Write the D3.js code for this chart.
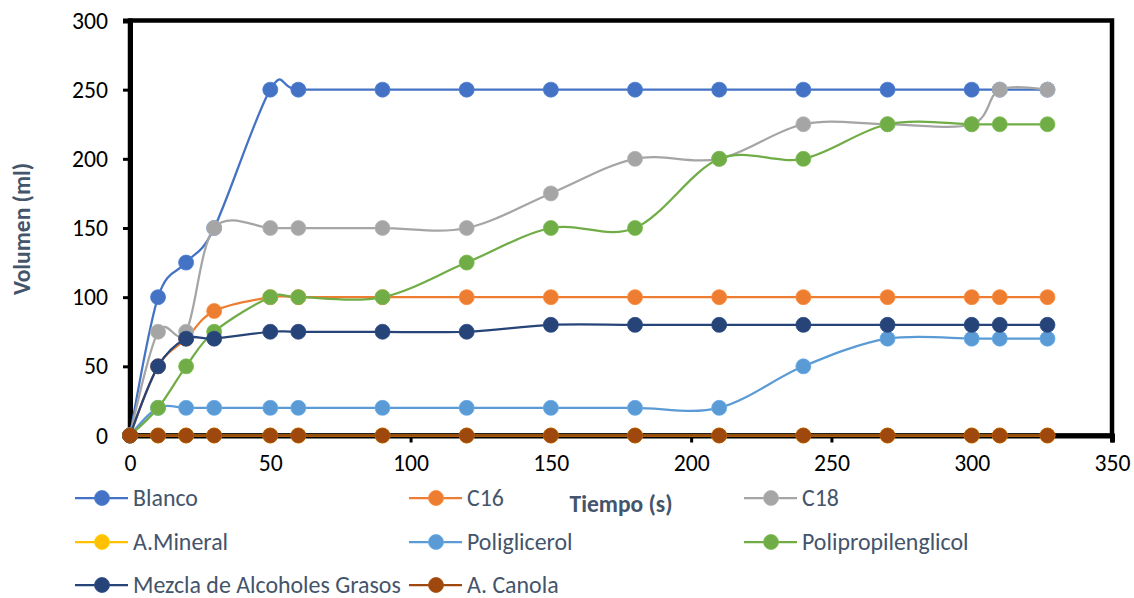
<!DOCTYPE html>
<html>
<head>
<meta charset="utf-8">
<script src="https://cdn.jsdelivr.net/npm/d3@7"></script>
<style>
  html, body { margin: 0; padding: 0; background: #fff; }
  svg { display: block; }
  text { font-family: Carlito, Calibri, Lato, "Open Sans", sans-serif; }
</style>
</head>
<body>
<svg id="chart" width="1134" height="598"></svg>
<script>
// ---- data ----
const time = [0, 10, 20, 30, 50, 60, 90, 120, 150, 180, 210, 240, 270, 300, 310, 327];
const blanco = [0, 100, 125, 150, 250, 250, 250, 250, 250, 250, 250, 250, 250, 250, 250, 250];
const c16 = [0, 50, 70, 90, 100, 100, 100, 100, 100, 100, 100, 100, 100, 100, 100, 100];
const c18 = [0, 75, 75, 150, 150, 150, 150, 150, 175, 200, 200, 225, 225, 225, 250, 250];
const aMineral = [0, 0, 0, 0, 0, 0, 0, 0, 0, 0, 0, 0, 0, 0, 0, 0];
const poliglicerol = [0, 20, 20, 20, 20, 20, 20, 20, 20, 20, 20, 50, 70, 70, 70, 70];
const polipropilenglicol = [0, 20, 50, 75, 100, 100, 100, 125, 150, 150, 200, 200, 225, 225, 225, 225];
const mezcla = [0, 50, 70, 70, 75, 75, 75, 75, 80, 80, 80, 80, 80, 80, 80, 80];
const aCanola = [0, 0, 0, 0, 0, 0, 0, 0, 0, 0, 0, 0, 0, 0, 0, 0];

const seriesNames = ["Blanco", "C16", "C18", "A.Mineral", "Poliglicerol", "Polipropilenglicol", "Mezcla de Alcoholes Grasos", "A. Canola"];
const seriesValues = [blanco, c16, c18, aMineral, poliglicerol, polipropilenglicol, mezcla, aCanola];
const seriesColors = ["#4472C4", "#ED7D31", "#A5A5A5", "#FFC000", "#5B9BD5", "#70AD47", "#264478", "#9E480E"];

const xTicks = [0, 50, 100, 150, 200, 250, 300, 350];
const yTicks = [0, 50, 100, 150, 200, 250, 300];
const xTitle = "Tiempo (s)";
const yTitle = "Volumen (ml)";

// ---- layout ----
const svg = d3.select("#chart");
const pLeft = 130, pRight = 1112, pTop = 20.5, pBottom = 435.5;
const x = d3.scaleLinear().domain([0, 350]).range([pLeft, pRight]);
const y = d3.scaleLinear().domain([0, 300]).range([pBottom, pTop]);

// font fitting helper (Calibri-like metrics)
function fitSize(str, targetW, weight) {
  const t = svg.append("text").attr("font-size", 100).attr("font-weight", weight || "normal").text(str);
  const w = t.node().getComputedTextLength();
  t.remove();
  return 100 * targetW / w;
}
const legendFs = Math.min(24, fitSize("Mezcla de Alcoholes Grasos", 268));
const tickFs = Math.min(24, fitSize("300", 36));
const titleFs = Math.min(24, fitSize("Tiempo (s)", 103, "bold"));

const slate = "#44546A";

// plot frame (top & right)
svg.append("rect")
  .attr("x", pLeft).attr("y", pTop)
  .attr("width", pRight - pLeft).attr("height", pBottom - pTop)
  .attr("fill", "none").attr("stroke", "#000").attr("stroke-width", 4.5);

// axes
const yAxis = d3.axisLeft(y).tickValues(yTicks).tickSize(7).tickPadding(15).tickFormat(d3.format("d"));
const gy = svg.append("g").attr("transform", `translate(${pLeft},0)`).call(yAxis);
gy.select(".domain").attr("stroke", "#000").attr("stroke-width", 5);
gy.selectAll(".tick line").attr("stroke", "#000").attr("stroke-width", 3);
gy.selectAll(".tick text").attr("font-size", tickFs).attr("fill", "#000")
  .attr("font-family", "Carlito, Calibri, Lato, 'Open Sans', sans-serif");

const xAxis = d3.axisBottom(x).tickValues(xTicks).tickSize(7).tickPadding(12).tickFormat(d3.format("d"));
const gx = svg.append("g").attr("transform", `translate(0,${pBottom})`).call(xAxis);
gx.select(".domain").attr("stroke", "#000").attr("stroke-width", 5);
gx.selectAll(".tick line").attr("stroke", "#000").attr("stroke-width", 3);
gx.selectAll(".tick text").attr("font-size", tickFs).attr("fill", "#000")
  .attr("font-family", "Carlito, Calibri, Lato, 'Open Sans', sans-serif");

// series
const line = d3.line()
  .x((d, i) => x(time[i]))
  .y(d => y(d))
  .curve(d3.curveCardinal.tension(0));

seriesValues.forEach((vals, si) => {
  const g = svg.append("g").attr("class", "series");
  g.append("path")
    .datum(vals)
    .attr("d", line)
    .attr("fill", "none")
    .attr("stroke", seriesColors[si])
    .attr("stroke-width", 2.25);
  g.selectAll("circle")
    .data(vals)
    .join("circle")
    .attr("cx", (d, i) => x(time[i]))
    .attr("cy", d => y(d))
    .attr("r", 7.5)
    .attr("fill", seriesColors[si])
    .attr("stroke", d3.color(seriesColors[si]).brighter(0.25))
    .attr("stroke-width", 0.8);
});

// axis titles
svg.append("text")
  .attr("x", (pLeft + pRight) / 2).attr("y", 512)
  .attr("text-anchor", "middle")
  .attr("font-size", titleFs).attr("font-weight", "bold").attr("fill", slate)
  .text(xTitle);

svg.append("text")
  .attr("transform", `translate(22,229) rotate(-90)`)
  .attr("text-anchor", "middle").attr("dy", "0.35em")
  .attr("font-size", titleFs).attr("font-weight", "bold").attr("fill", slate)
  .text(yTitle);

// legend
const colX = [102, 436, 771];
const rowY = [498, 542, 585];
seriesNames.forEach((name, i) => {
  const cx = colX[i % 3], cy = rowY[Math.floor(i / 3)];
  const g = svg.append("g").attr("class", "legend-item");
  g.append("line")
    .attr("x1", cx - 27).attr("x2", cx + 26)
    .attr("y1", cy).attr("y2", cy)
    .attr("stroke", seriesColors[i]).attr("stroke-width", 2.25);
  g.append("circle")
    .attr("cx", cx).attr("cy", cy).attr("r", 7.5)
    .attr("fill", seriesColors[i])
    .attr("stroke", d3.color(seriesColors[i]).brighter(0.25)).attr("stroke-width", 0.8);
  g.append("text")
    .attr("x", cx + 31).attr("y", cy).attr("dy", "0.35em")
    .attr("font-size", legendFs).attr("fill", slate)
    .text(name);
});
</script>
</body>
</html>
